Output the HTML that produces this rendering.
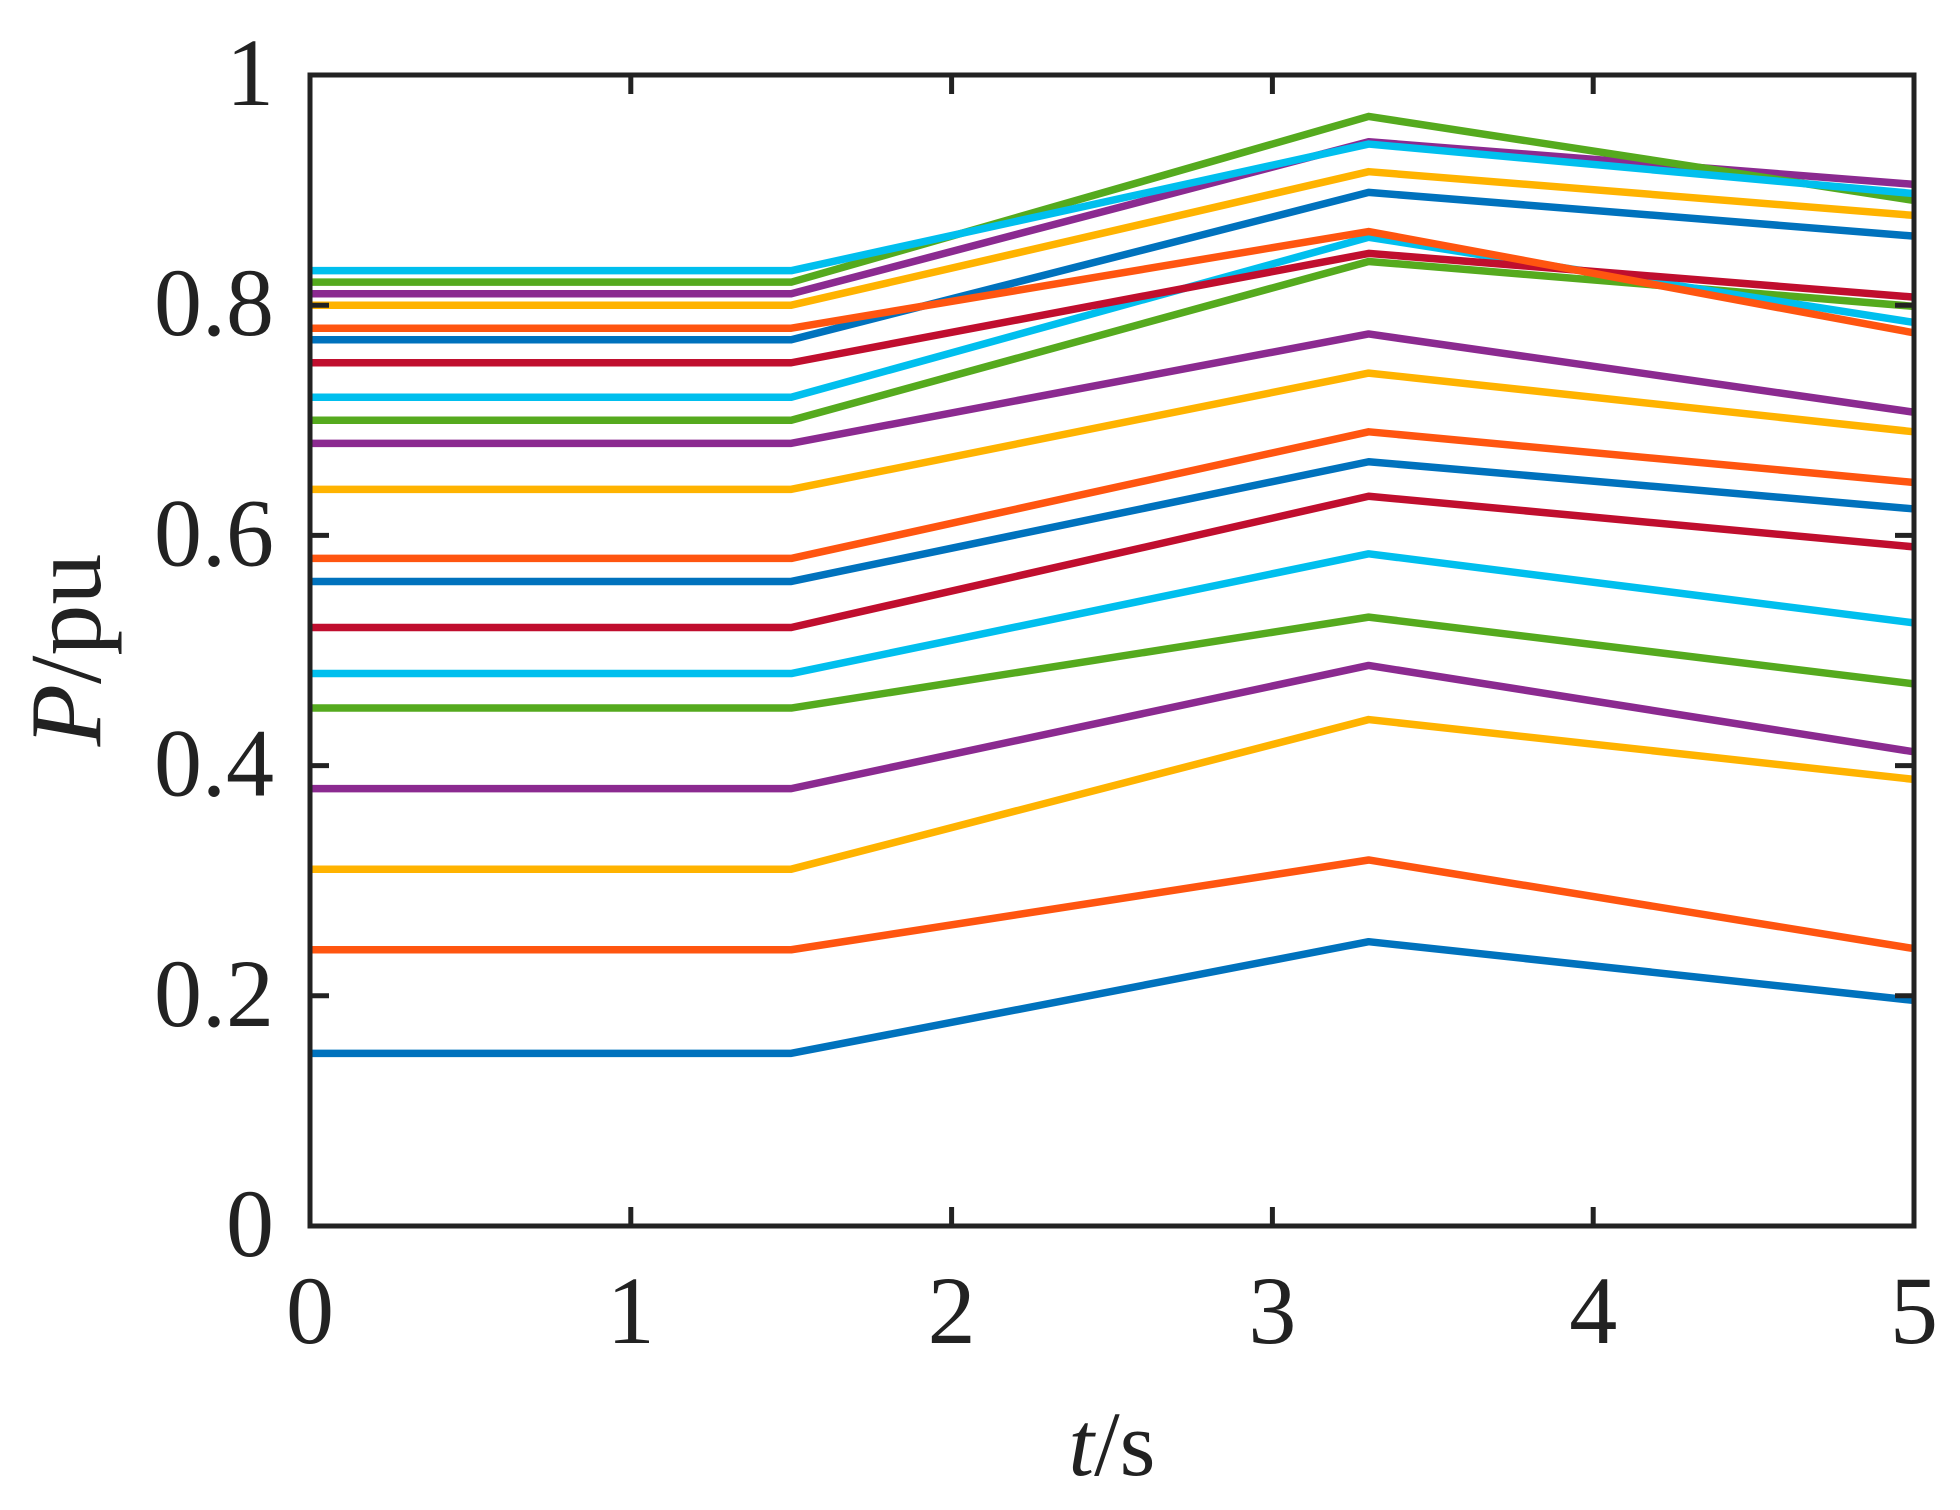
<!DOCTYPE html>
<html><head><meta charset="utf-8"><style>
html,body{margin:0;padding:0;background:#fff;}
svg{display:block;}
text{font-family:"Liberation Serif",serif;fill:#222;}
</style></head><body>
<svg id="chart" width="1960" height="1510" viewBox="0 0 1960 1510" xmlns="http://www.w3.org/2000/svg">
<g id="lines"></g>
<g id="axes"></g>
</svg>
<script>
const times = [0, 1.5, 3.3, 5];
const startValues = [0.15,0.24,0.31,0.38,0.45,0.48,0.52,0.56,0.58,0.64,0.68,0.70,0.72,0.75,0.77,0.78,0.80,0.81,0.82,0.83];
const peakValues  = [0.247,0.318,0.440,0.487,0.529,0.584,0.634,0.664,0.690,0.741,0.775,0.838,0.859,0.845,0.898,0.864,0.916,0.942,0.964,0.940];
const endValues   = [0.196,0.241,0.388,0.412,0.471,0.524,0.590,0.623,0.646,0.690,0.707,0.799,0.785,0.807,0.860,0.776,0.878,0.905,0.891,0.897];
const seriesColors = ["#0072BD","#FF5510","#FFB300","#8B2A90","#55AA1E","#00BFEE","#C00E2E"];
const xTicks = [0,1,2,3,4,5];
const yTicks = [0,0.2,0.4,0.6,0.8,1];
const yTickLabels = ["0","0.2","0.4","0.6","0.8","1"];

const L=310, R=1914, T=75, B=1226;
const xs = t => L + (t-0)/(5-0)*(R-L);
const ys = v => B - v*(B-T);
const NS="http://www.w3.org/2000/svg";
const lines=document.getElementById('lines');
const axes=document.getElementById('axes');

for(let i=0;i<startValues.length;i++){
  const vals=[startValues[i],startValues[i],peakValues[i],endValues[i]];
  const p=document.createElementNS(NS,'polyline');
  p.setAttribute('points', times.map((t,k)=>xs(t)+','+ys(vals[k])).join(' '));
  p.setAttribute('fill','none');
  p.setAttribute('stroke',seriesColors[i%seriesColors.length]);
  p.setAttribute('stroke-width','7.5');
  p.setAttribute('stroke-linejoin','round');
  
  
  lines.appendChild(p);
}

const frame=document.createElementNS(NS,'rect');
frame.setAttribute('x',L);frame.setAttribute('y',T);
frame.setAttribute('width',R-L);frame.setAttribute('height',B-T);
frame.setAttribute('fill','none');frame.setAttribute('stroke','#222');frame.setAttribute('stroke-width','5');


axes.appendChild(frame);

xTicks.forEach(t=>{
  const x=xs(t);
  [[B,B-19],[T,T+19]].forEach(([a,b])=>{
    const l=document.createElementNS(NS,'line');
    l.setAttribute('x1',x);l.setAttribute('x2',x);l.setAttribute('y1',a);l.setAttribute('y2',b);
    l.setAttribute('stroke','#222');l.setAttribute('stroke-width','5');
    
    
    axes.appendChild(l);
  });
  const tx=document.createElementNS(NS,'text');
  tx.setAttribute('x',x);tx.setAttribute('y',1343);
  tx.setAttribute('text-anchor','middle');tx.setAttribute('font-size','96');
  tx.textContent=String(t);
  
  
  axes.appendChild(tx);
});
yTicks.forEach((v,i)=>{
  const y=ys(v);
  [[L,L+19],[R,R-19]].forEach(([a,b])=>{
    const l=document.createElementNS(NS,'line');
    l.setAttribute('x1',a);l.setAttribute('x2',b);l.setAttribute('y1',y);l.setAttribute('y2',y);
    l.setAttribute('stroke','#222');l.setAttribute('stroke-width','5');
    
    
    axes.appendChild(l);
  });
  const tx=document.createElementNS(NS,'text');
  tx.setAttribute('x',274);tx.setAttribute('y',y+30);
  tx.setAttribute('text-anchor','end');tx.setAttribute('font-size','96');
  tx.textContent=yTickLabels[i];
  
  
  axes.appendChild(tx);
});
</script>
<svg style="position:absolute;left:0;top:0" width="1960" height="1510">
<text x="1112" y="1475" text-anchor="middle" font-size="92"><tspan font-style="italic">t</tspan>/s</text>
<text transform="translate(100,650) rotate(-90)" text-anchor="middle" font-size="102"><tspan font-style="italic">P</tspan>/pu</text>
</svg>
</body></html>
